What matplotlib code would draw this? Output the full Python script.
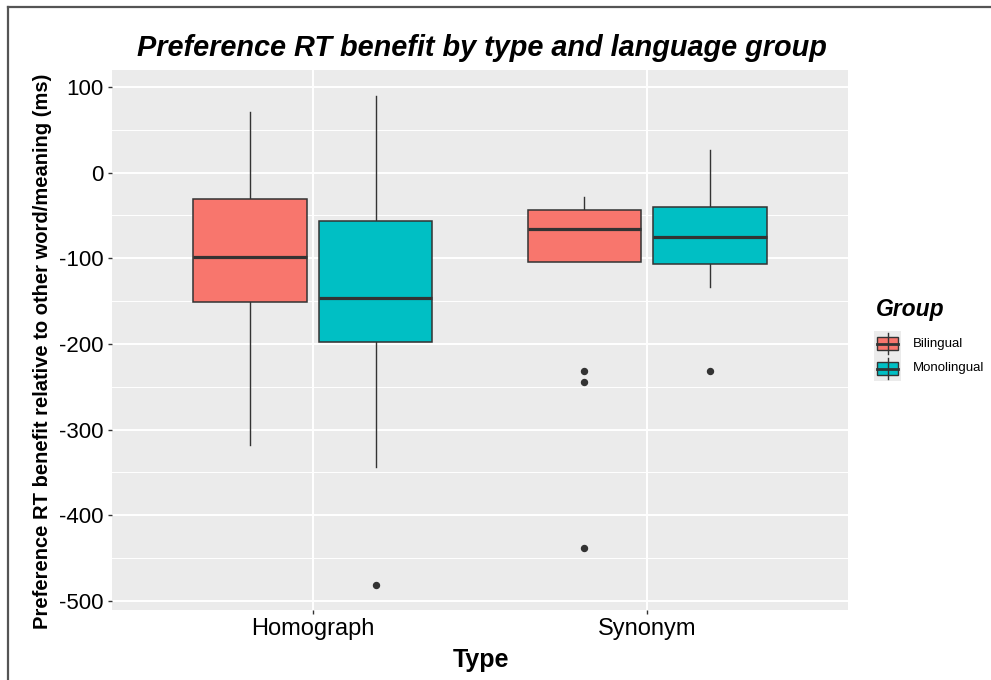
import matplotlib
matplotlib.use("Agg")
import matplotlib.pyplot as plt
from matplotlib.patches import Rectangle
from matplotlib.lines import Line2D

plt.rcParams['font.family'] = ['Liberation Sans', 'DejaVu Sans']

# ---- data ----
types = ["Homograph", "Synonym"]
groups = ["Bilingual", "Monolingual"]
group_colors = ["#F8766D", "#00BFC4"]

# per (type, group): whisker low, Q1, median, Q3, whisker high
homograph_bil = [-318, -151, -99, -31, 71]
homograph_mono = [-344, -198, -146, -56, 90]
synonym_bil = [-104, -104, -66, -44, -28]
synonym_mono = [-133, -107, -75, -40, 26]

homograph_bil_out = []
homograph_mono_out = [-481]
synonym_bil_out = [-231, -244, -438]
synonym_mono_out = [-232]

y_ticks = [100, 0, -100, -200, -300, -400, -500]
y_minor = [50, -50, -150, -250, -350, -450]

W, H = 991, 680
fig = plt.figure(figsize=(W / 100, H / 100), dpi=100)
fig.patch.set_facecolor("white")

def fx(px):
    return px / W

def fy(py):
    return 1 - py / H

ax = fig.add_axes([fx(112), fy(610), fx(848) - fx(112), fy(70) - fy(610)])
ax.set_facecolor("#EBEBEB")
for s in ax.spines.values():
    s.set_visible(False)

def mkstat(v, fl):
    return dict(whislo=v[0], q1=v[1], med=v[2], q3=v[3], whishi=v[4], fliers=fl)

series = [
    (1, 0, homograph_bil, homograph_bil_out),
    (1, 1, homograph_mono, homograph_mono_out),
    (2, 0, synonym_bil, synonym_bil_out),
    (2, 1, synonym_mono, synonym_mono_out),
]
offset = 0.188
bw = 0.34
for xc, gi, vals, outs in series:
    pos = xc + (offset if gi == 1 else -offset)
    res = ax.bxp([mkstat(vals, outs)], positions=[pos], widths=[bw],
                 patch_artist=True, showcaps=False, manage_ticks=False,
                 boxprops=dict(facecolor=group_colors[gi], edgecolor="#333333", linewidth=1.1),
                 medianprops=dict(color="#333333", linewidth=2.3, solid_capstyle="butt"),
                 whiskerprops=dict(color="#333333", linewidth=1.0),
                 flierprops=dict(marker="o", markerfacecolor="#333333", markeredgecolor="#333333",
                                 markersize=4.3, linestyle="none"))
    for b in res["boxes"]:
        b.set_zorder(3)
    for m in res["medians"]:
        m.set_zorder(4)

ax.set_xlim(0.4, 2.6)
ax.set_ylim(-510.5, 119.8)
ax.set_xticks([1, 2])
ax.set_xticklabels(types, fontsize=17, color="black")
ax.set_yticks(y_ticks)
ax.set_yticklabels([str(t) for t in y_ticks], fontsize=16, color="black")
ax.set_yticks(y_minor, minor=True)
ax.tick_params(which="major", length=3, width=1, color="#333333", pad=3)
ax.tick_params(which="minor", length=0)
ax.grid(which="major", color="white", linewidth=1.4)
ax.grid(which="minor", axis="y", color="white", linewidth=0.7)
ax.set_axisbelow(True)

# titles
fig.text(fx(482), fy(56), "Preference RT benefit by type and language group",
         ha="center", va="baseline", fontsize=20.8, fontweight="bold", fontstyle="italic")
fig.text(fx(43), fy(351), "Preference RT benefit relative to other word/meaning (ms)",
         ha="center", va="center", rotation=90, fontsize=14.5, fontweight="bold")
fig.text(fx(481), fy(667), "Type", ha="center", va="baseline", fontsize=18, fontweight="bold")

# legend
lax = fig.add_axes([0, 0, 1, 1])
lax.set_xlim(0, W)
lax.set_ylim(H, 0)
lax.axis("off")
lax.text(876, 316, "Group", ha="left", va="baseline", fontsize=16.5,
         fontweight="bold", fontstyle="italic")
for i, (g, c) in enumerate(zip(groups, group_colors)):
    top = 331 + i * 25
    lax.add_patch(Rectangle((874, top), 27, 25, facecolor="#EBEBEB", edgecolor="none"))
    cx = 887.5
    lax.add_line(Line2D([cx, cx], [top + 2, top + 23], color="#333333", linewidth=1.0))
    lax.add_patch(Rectangle((877, top + 6), 21, 13, facecolor=c, edgecolor="#333333", linewidth=1.0))
    lax.add_line(Line2D([877, 898], [top + 12.5, top + 12.5], color="#333333", linewidth=2.0))
    lax.text(913, top + 12.5, g, ha="left", va="center", fontsize=9.5)

# outer frame (top and left visible)
fig.add_artist(Line2D([fx(8), fx(991)], [fy(6.5), fy(6.5)], color="#555555", linewidth=1.6))
fig.add_artist(Line2D([fx(8), fx(8)], [fy(6.5), fy(680)], color="#555555", linewidth=1.6))

fig.savefig("out.png", dpi=100)
